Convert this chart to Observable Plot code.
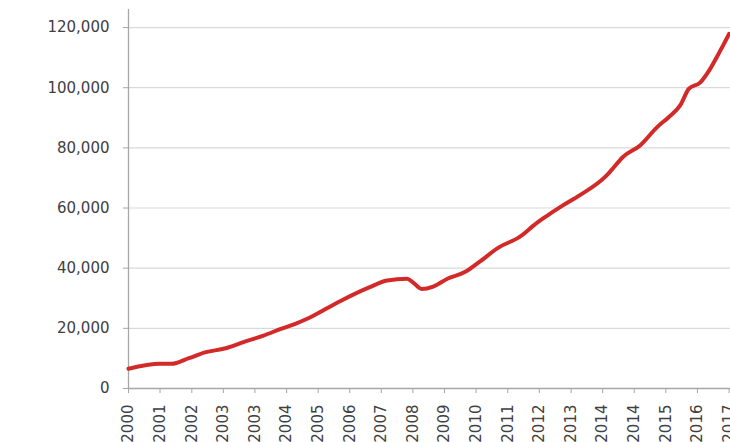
<!DOCTYPE html>
<html>
<head>
<meta charset="utf-8">
<script src="https://cdn.jsdelivr.net/npm/d3@7"></script>
<script src="https://cdn.jsdelivr.net/npm/@observablehq/plot@0.6"></script>
<style>
  html, body { margin: 0; padding: 0; background: #ffffff; }
  #chart { width: 730px; height: 442px; overflow: hidden; }
</style>
</head>
<body>
<div id="chart"></div>
<script>
// Monthly series (year-month) and values
const dates = ["2000-04","2001-03","2001-07","2002-01","2002-07","2003-01","2003-08","2004-03","2004-09","2005-02",
  "2005-08","2005-11","2006-06","2007-04","2007-10","2008-05","2008-07","2008-10","2009-02","2009-07",
  "2010-01","2010-06","2011-01","2011-08","2012-02","2012-05","2012-11","2013-05","2014-02","2014-04",
  "2014-08","2015-02","2015-08","2015-12","2016-04","2016-07","2016-11","2017-02","2017-06","2017-09"];
const values = [6550, 8200, 8200, 10100, 12100, 13200, 15400, 17600, 19800, 21500,
  24000, 25600, 29200, 33700, 35900, 36500, 35300, 33100, 33900, 36500,
  38700, 42000, 47000, 50300, 55000, 57000, 60800, 64200, 70500, 72500,
  76900, 80800, 86900, 90200, 94100, 99600, 101800, 105700, 112400, 117900];

// Category-axis tick positions (every 11 months) and y tick values
const xTickDates = ["2000-04","2001-03","2002-02","2003-01","2003-12","2004-11","2005-10","2006-09","2007-08","2008-07",
  "2009-06","2010-05","2011-04","2012-03","2013-02","2014-01","2014-12","2015-11","2016-10","2017-09"];
const yTicks = [0, 20000, 40000, 60000, 80000, 100000, 120000];

const parse = d3.utcParse("%Y-%m");
const data = dates.map((d, i) => ({date: parse(d), value: values[i]}));
const xTicks = xTickDates.map(parse);
const xStart = parse("2000-04");
const xEnd = d3.utcParse("%Y-%m-%d")("2017-09-16");

const chart = Plot.plot({
  width: 730,
  height: 442,
  marginLeft: 128,
  marginRight: 0,
  marginTop: 9,
  marginBottom: 54,
  style: {fontFamily: "DejaVu Sans", fontSize: "15px", background: "#ffffff", color: "#404040"},
  x: {type: "utc", domain: [xStart, xEnd]},
  y: {domain: [0, 126000]},
  marks: [
    Plot.gridY(yTicks, {stroke: "#d9d9d9", strokeOpacity: 1, strokeWidth: 1.2}),
    Plot.ruleY([0], {stroke: "#a6a6a6", strokeWidth: 1.3}),
    Plot.ruleX([xStart], {stroke: "#a6a6a6", strokeWidth: 1.3}),
    Plot.axisY(yTicks, {tickSize: 5, tickPadding: 14, tickFormat: d3.format(","), stroke: "#a6a6a6", fill: "#404040", fontSize: 15, label: null}),
    Plot.axisX(xTicks, {tickSize: 5, tickPadding: 11, tickFormat: d3.utcFormat("%Y"), tickRotate: -90, stroke: "#a6a6a6", fill: "#404040", fontSize: 15, label: null}),
    Plot.line(data, {x: "date", y: "value", stroke: "#d22a28", strokeWidth: 4, curve: "monotone-x", strokeLinejoin: "round"})
  ]
});
document.getElementById("chart").appendChild(chart);
</script>
</body>
</html>
